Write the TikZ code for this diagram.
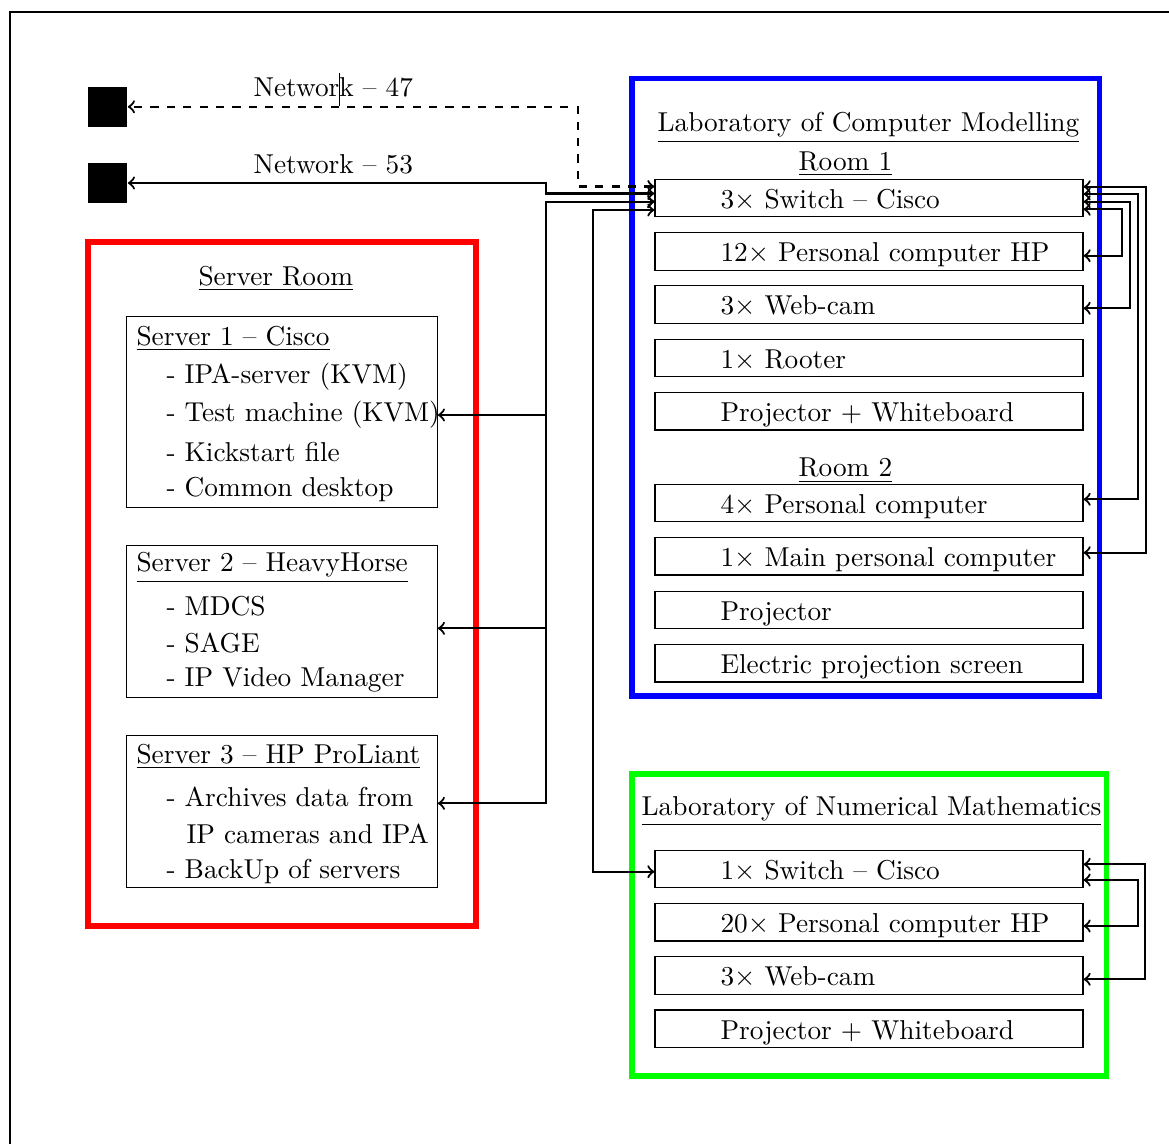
\documentclass[tikz,border=0pt]{standalone}
\newcommand\dv[1]{\makebox[108.7pt][l]{#1}}
\begin{document}
\begin{tikzpicture}[x=0.3661pt,y=-0.3661pt,
  conn/.style={thick,<->},
  dev/.style={draw, minimum width=156.7pt, minimum height=13.73pt, inner sep=0pt, text height=8.5pt, text depth=0.96pt},
  srv/.style={draw, minimum width=113.7pt, inner sep=0pt},
  txt/.style={inner sep=0pt, anchor=base west},
  sq/.style={fill=black, minimum width=14.5pt, minimum height=14.6pt, inner sep=0pt},
  room/.style={line width=2pt}]
\useasboundingbox (0,0) rectangle (1169,1144);
% page frame
\draw[line width=0.6pt] (10,1144) -- (10,12) -- (1169,12);

% rooms
\draw[red, room] (88,242) rectangle (476,926);
\draw[blue, room] (632,78.7) rectangle (1099.5,696);
\draw[green, room] (632,774) rectangle (1106.5,1076);

% network endpoints
\node[sq] (n47) at (107.5,106.8) {};
\node[sq] (n53) at (107.5,183) {};
\node[txt] (l47) at (253,96.7) {Network -- 47};
\node[txt] (l53) at (253,173.3) {Network -- 53};
\draw[line width=0.4pt] (339.5,72.7) -- (339.5,106);

% Server room
\node[txt] (srt) at (198,285) {\underline{Server Room}};
\node[srv, minimum height=69.8pt] (s1) at (282,412) {};
\node[txt] (s1h) at (136,345) {\underline{Server 1 -- Cisco}};
\node[txt] (s1a) at (166,383.3) {- IPA-server (KVM)};
\node[txt] (s1b) at (166,421) {- Test machine (KVM)};
\node[txt] (s1c) at (166,461.7) {- Kickstart file};
\node[txt] (s1d) at (166,496.7) {- Common desktop};

\node[srv, minimum height=55.9pt] (s2) at (282,621.4) {};
\node[txt] (s2h) at (136,571.7) {\underline{Server 2 -- HeavyHorse}};
\node[txt] (s2a) at (166,615) {- MDCS};
\node[txt] (s2b) at (166,652.7) {- SAGE};
\node[txt] (s2c) at (166,686.7) {- IP Video Manager};

\node[srv, minimum height=55.65pt] (s3) at (282,811.7) {};
\node[txt] (s3h) at (136,763.3) {\underline{Server 3 -- HP ProLiant}};
\node[txt] (s3a) at (166,806) {- Archives data from};
\node[txt] (s3b) at (186,843.3) {IP cameras and IPA};
\node[txt] (s3c) at (166,878.3) {- BackUp of servers};

% Laboratory of Computer Modelling
\node[txt] (cmt) at (657,131.7) {\underline{Laboratory of Computer Modelling}};
\node[txt] (r1t) at (798,170) {\underline{Room 1}};
\node[dev] (cs) at (869,198) {\dv{3$\times$ Switch -- Cisco}};
\node[dev] (cpc) at (869,251.3) {\dv{12$\times$ Personal computer HP}};
\node[dev] (cwc) at (869,304.6) {\dv{3$\times$ Web-cam}};
\node[dev] (crt) at (869,357.9) {\dv{1$\times$ Rooter}};
\node[dev] (cpw) at (869,411.2) {\dv{Projector $+$ Whiteboard}};
\node[txt] (r2t) at (798,476.7) {\underline{Room 2}};
\node[dev] (c4pc) at (869,502.8) {\dv{4$\times$ Personal computer}};
\node[dev] (cmpc) at (869,556.2) {\dv{1$\times$ Main personal computer}};
\node[dev] (cpj) at (869,609.8) {\dv{Projector}};
\node[dev] (ces) at (869,663.2) {\dv{Electric projection screen}};

% Laboratory of Numerical Mathematics
\node[txt] (nmt) at (641,815) {\underline{Laboratory of Numerical Mathematics}};
\node[dev] (ns) at (869,868.8) {\dv{1$\times$ Switch -- Cisco}};
\node[dev] (npc) at (869,922.2) {\dv{20$\times$ Personal computer HP}};
\node[dev] (nwc) at (869,975.5) {\dv{3$\times$ Web-cam}};
\node[dev] (npw) at (869,1028.7) {\dv{Projector $+$ Whiteboard}};

% connectors, left of the main switch
\draw[conn, dashed] (cs.west |- 0,186.5) -| (578,106.8) -- (n47.east);
\draw[conn] (cs.west |- 0,193.5) -| (546,183) -- (n53.east);
\draw[conn] (cs.west |- 0,201.7) -| (546,415) -- (s1.east |- 0,415);
\draw[conn] (cs.west |- 0,201.7) -| (546,628.3) -- (s2.east |- 0,628.3);
\draw[conn] (cs.west |- 0,201.7) -| (546,803.3) -- (s3.east |- 0,803.3);
\draw[conn] (cs.west |- 0,210) -| (593,871.7) -- (ns.west |- 0,871.7);

% connectors, right of the main switch
\draw[conn] (cs.east |- 0,186.7) -| (1146,552.7) -- (cmpc.east |- 0,552.7);
\draw[conn] (cs.east |- 0,194) -| (1138.3,499.3) -- (c4pc.east |- 0,499.3);
\draw[conn] (cs.east |- 0,201.7) -| (1130,308.3) -- (cwc.east |- 0,308.3);
\draw[conn] (cs.east |- 0,209.3) -| (1121.7,255.7) -- (cpc.east |- 0,255.7);

% connectors in the numerical mathematics laboratory
\draw[conn] (ns.east |- 0,864.3) -| (1145,979.3) -- (nwc.east |- 0,979.3);
\draw[conn] (ns.east |- 0,880) -| (1138.3,926) -- (npc.east |- 0,926);
\end{tikzpicture}
\end{document}
